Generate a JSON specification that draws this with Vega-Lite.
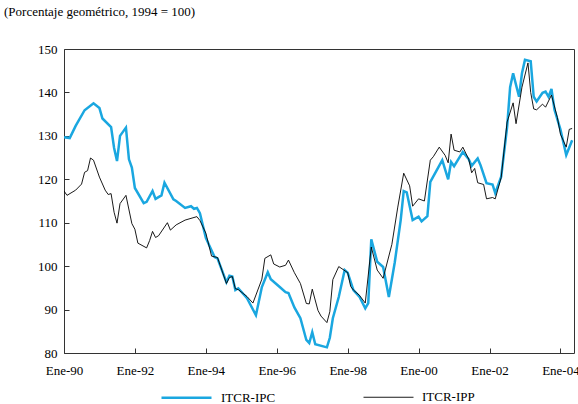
{
  "$schema": "https://vega.github.io/schema/vega-lite/v6.json",
  "width": 510,
  "height": 304,
  "autosize": "none",
  "padding": {"left": 64, "top": 49, "right": 4, "bottom": 51},
  "background": "white",
  "title": {"text": "(Porcentaje geométrico, 1994 = 100)", "anchor": "start", "frame": "group", "dx": -60, "offset": 24, "font": "'Liberation Serif', serif", "fontSize": 13, "fontWeight": "normal", "color": "#000"},
  "config": {"view": {"stroke": "#333", "strokeWidth": 1}, "font": "'Liberation Serif', serif"},
  "data": {"values": [
    {"d":"1990-01-01","s":"ITCR-IPC","v":129.7},{"d":"1990-03-01","s":"ITCR-IPC","v":129.5},{"d":"1990-05-01","s":"ITCR-IPC","v":132.3},{"d":"1990-08-01","s":"ITCR-IPC","v":135.9},{"d":"1990-11-01","s":"ITCR-IPC","v":137.5},{"d":"1991-01-01","s":"ITCR-IPC","v":136.4},{"d":"1991-02-01","s":"ITCR-IPC","v":134},{"d":"1991-05-01","s":"ITCR-IPC","v":132},{"d":"1991-06-01","s":"ITCR-IPC","v":127.2},{"d":"1991-07-01","s":"ITCR-IPC","v":124.2},{"d":"1991-08-01","s":"ITCR-IPC","v":130},{"d":"1991-10-01","s":"ITCR-IPC","v":131.9},{"d":"1991-11-01","s":"ITCR-IPC","v":124.6},{"d":"1991-12-01","s":"ITCR-IPC","v":122.7},{"d":"1992-01-01","s":"ITCR-IPC","v":118},{"d":"1992-04-01","s":"ITCR-IPC","v":114.5},{"d":"1992-05-01","s":"ITCR-IPC","v":114.8},{"d":"1992-07-01","s":"ITCR-IPC","v":117.3},{"d":"1992-08-01","s":"ITCR-IPC","v":115.5},{"d":"1992-10-01","s":"ITCR-IPC","v":116.3},{"d":"1992-11-01","s":"ITCR-IPC","v":119.2},{"d":"1993-02-01","s":"ITCR-IPC","v":115.4},{"d":"1993-03-01","s":"ITCR-IPC","v":115},{"d":"1993-06-01","s":"ITCR-IPC","v":113.4},{"d":"1993-08-01","s":"ITCR-IPC","v":113.8},{"d":"1993-09-01","s":"ITCR-IPC","v":113.2},{"d":"1993-10-01","s":"ITCR-IPC","v":113.4},{"d":"1993-11-01","s":"ITCR-IPC","v":112.2},{"d":"1994-01-01","s":"ITCR-IPC","v":106.5},{"d":"1994-04-01","s":"ITCR-IPC","v":102.1},{"d":"1994-05-01","s":"ITCR-IPC","v":101.8},{"d":"1994-08-01","s":"ITCR-IPC","v":96.3},{"d":"1994-09-01","s":"ITCR-IPC","v":97.8},{"d":"1994-10-01","s":"ITCR-IPC","v":97.6},{"d":"1994-11-01","s":"ITCR-IPC","v":94.5},{"d":"1994-12-01","s":"ITCR-IPC","v":94.9},{"d":"1995-03-01","s":"ITCR-IPC","v":92.6},{"d":"1995-06-01","s":"ITCR-IPC","v":88.7},{"d":"1995-08-01","s":"ITCR-IPC","v":95.2},{"d":"1995-10-01","s":"ITCR-IPC","v":98.6},{"d":"1995-11-01","s":"ITCR-IPC","v":97},{"d":"1996-02-01","s":"ITCR-IPC","v":95.2},{"d":"1996-04-01","s":"ITCR-IPC","v":94},{"d":"1996-05-01","s":"ITCR-IPC","v":93.8},{"d":"1996-07-01","s":"ITCR-IPC","v":90.5},{"d":"1996-09-01","s":"ITCR-IPC","v":88},{"d":"1996-11-01","s":"ITCR-IPC","v":83},{"d":"1996-12-01","s":"ITCR-IPC","v":82.3},{"d":"1997-01-01","s":"ITCR-IPC","v":84.8},{"d":"1997-02-01","s":"ITCR-IPC","v":82},{"d":"1997-06-01","s":"ITCR-IPC","v":81.3},{"d":"1997-07-01","s":"ITCR-IPC","v":83.5},{"d":"1997-08-01","s":"ITCR-IPC","v":88},{"d":"1997-10-01","s":"ITCR-IPC","v":92.9},{"d":"1997-12-01","s":"ITCR-IPC","v":99.1},{"d":"1998-01-01","s":"ITCR-IPC","v":98.5},{"d":"1998-03-01","s":"ITCR-IPC","v":94.5},{"d":"1998-05-01","s":"ITCR-IPC","v":93},{"d":"1998-07-01","s":"ITCR-IPC","v":90.3},{"d":"1998-08-01","s":"ITCR-IPC","v":91.5},{"d":"1998-09-01","s":"ITCR-IPC","v":106.2},{"d":"1998-11-01","s":"ITCR-IPC","v":101},{"d":"1999-01-01","s":"ITCR-IPC","v":99.8},{"d":"1999-03-01","s":"ITCR-IPC","v":92.9},{"d":"1999-05-01","s":"ITCR-IPC","v":100.9},{"d":"1999-07-01","s":"ITCR-IPC","v":110.6},{"d":"1999-08-01","s":"ITCR-IPC","v":117.3},{"d":"1999-09-01","s":"ITCR-IPC","v":117},{"d":"1999-11-01","s":"ITCR-IPC","v":110.6},{"d":"2000-01-01","s":"ITCR-IPC","v":111.4},{"d":"2000-02-01","s":"ITCR-IPC","v":110.3},{"d":"2000-04-01","s":"ITCR-IPC","v":111.5},{"d":"2000-05-01","s":"ITCR-IPC","v":119.4},{"d":"2000-07-01","s":"ITCR-IPC","v":121.9},{"d":"2000-09-01","s":"ITCR-IPC","v":124.4},{"d":"2000-11-01","s":"ITCR-IPC","v":120},{"d":"2000-12-01","s":"ITCR-IPC","v":124},{"d":"2001-01-01","s":"ITCR-IPC","v":123},{"d":"2001-04-01","s":"ITCR-IPC","v":126.3},{"d":"2001-06-01","s":"ITCR-IPC","v":124.6},{"d":"2001-07-01","s":"ITCR-IPC","v":123.1},{"d":"2001-09-01","s":"ITCR-IPC","v":124.8},{"d":"2001-10-01","s":"ITCR-IPC","v":123.2},{"d":"2001-12-01","s":"ITCR-IPC","v":119.1},{"d":"2002-02-01","s":"ITCR-IPC","v":118.8},{"d":"2002-03-01","s":"ITCR-IPC","v":116.8},{"d":"2002-05-01","s":"ITCR-IPC","v":120.6},{"d":"2002-07-01","s":"ITCR-IPC","v":132},{"d":"2002-08-01","s":"ITCR-IPC","v":141.2},{"d":"2002-09-01","s":"ITCR-IPC","v":144.4},{"d":"2002-11-01","s":"ITCR-IPC","v":139},{"d":"2002-12-01","s":"ITCR-IPC","v":144.4},{"d":"2003-01-01","s":"ITCR-IPC","v":147.5},{"d":"2003-03-01","s":"ITCR-IPC","v":147.2},{"d":"2003-04-01","s":"ITCR-IPC","v":139},{"d":"2003-05-01","s":"ITCR-IPC","v":137.9},{"d":"2003-07-01","s":"ITCR-IPC","v":139.9},{"d":"2003-08-01","s":"ITCR-IPC","v":140.2},{"d":"2003-09-01","s":"ITCR-IPC","v":139},{"d":"2003-10-01","s":"ITCR-IPC","v":140.8},{"d":"2003-11-01","s":"ITCR-IPC","v":136},{"d":"2004-01-01","s":"ITCR-IPC","v":131.5},{"d":"2004-03-01","s":"ITCR-IPC","v":125.6},{"d":"2004-05-01","s":"ITCR-IPC","v":129},
    {"d":"1990-01-01","s":"ITCR-IPP","v":117.3},{"d":"1990-02-01","s":"ITCR-IPP","v":116.3},{"d":"1990-05-01","s":"ITCR-IPP","v":117.5},{"d":"1990-07-01","s":"ITCR-IPP","v":118.9},{"d":"1990-08-01","s":"ITCR-IPP","v":121.6},{"d":"1990-09-01","s":"ITCR-IPP","v":122},{"d":"1990-10-01","s":"ITCR-IPP","v":124.9},{"d":"1990-11-01","s":"ITCR-IPP","v":124.4},{"d":"1991-01-01","s":"ITCR-IPP","v":120.5},{"d":"1991-03-01","s":"ITCR-IPP","v":117.5},{"d":"1991-04-01","s":"ITCR-IPP","v":116.5},{"d":"1991-05-01","s":"ITCR-IPP","v":116.7},{"d":"1991-06-01","s":"ITCR-IPP","v":112.4},{"d":"1991-07-01","s":"ITCR-IPP","v":109.9},{"d":"1991-08-01","s":"ITCR-IPP","v":114.4},{"d":"1991-10-01","s":"ITCR-IPP","v":116.3},{"d":"1991-12-01","s":"ITCR-IPP","v":109.8},{"d":"1992-01-01","s":"ITCR-IPP","v":108.5},{"d":"1992-02-01","s":"ITCR-IPP","v":105.3},{"d":"1992-05-01","s":"ITCR-IPP","v":104.2},{"d":"1992-06-01","s":"ITCR-IPP","v":105.9},{"d":"1992-07-01","s":"ITCR-IPP","v":108},{"d":"1992-08-01","s":"ITCR-IPP","v":106.6},{"d":"1992-09-01","s":"ITCR-IPP","v":107},{"d":"1992-12-01","s":"ITCR-IPP","v":110},{"d":"1993-01-01","s":"ITCR-IPP","v":108.3},{"d":"1993-03-01","s":"ITCR-IPP","v":109.5},{"d":"1993-06-01","s":"ITCR-IPP","v":110.6},{"d":"1993-08-01","s":"ITCR-IPP","v":111},{"d":"1993-10-01","s":"ITCR-IPP","v":111.4},{"d":"1993-11-01","s":"ITCR-IPP","v":110.5},{"d":"1994-01-01","s":"ITCR-IPP","v":107.6},{"d":"1994-03-01","s":"ITCR-IPP","v":102.3},{"d":"1994-05-01","s":"ITCR-IPP","v":102},{"d":"1994-08-01","s":"ITCR-IPP","v":96},{"d":"1994-09-01","s":"ITCR-IPP","v":97.4},{"d":"1994-10-01","s":"ITCR-IPP","v":97.6},{"d":"1994-11-01","s":"ITCR-IPP","v":94.8},{"d":"1994-12-01","s":"ITCR-IPP","v":94.6},{"d":"1995-03-01","s":"ITCR-IPP","v":93},{"d":"1995-05-01","s":"ITCR-IPP","v":91.5},{"d":"1995-08-01","s":"ITCR-IPP","v":97},{"d":"1995-09-01","s":"ITCR-IPP","v":101.8},{"d":"1995-11-01","s":"ITCR-IPP","v":102.6},{"d":"1995-12-01","s":"ITCR-IPP","v":100.5},{"d":"1996-02-01","s":"ITCR-IPP","v":99.8},{"d":"1996-04-01","s":"ITCR-IPP","v":100.2},{"d":"1996-05-01","s":"ITCR-IPP","v":101.4},{"d":"1996-07-01","s":"ITCR-IPP","v":98.5},{"d":"1996-09-01","s":"ITCR-IPP","v":96},{"d":"1996-11-01","s":"ITCR-IPP","v":91.4},{"d":"1996-12-01","s":"ITCR-IPP","v":91.3},{"d":"1997-01-01","s":"ITCR-IPP","v":94.7},{"d":"1997-03-01","s":"ITCR-IPP","v":89.8},{"d":"1997-04-01","s":"ITCR-IPP","v":88.5},{"d":"1997-06-01","s":"ITCR-IPP","v":87},{"d":"1997-07-01","s":"ITCR-IPP","v":89.5},{"d":"1997-08-01","s":"ITCR-IPP","v":96.9},{"d":"1997-10-01","s":"ITCR-IPP","v":99.9},{"d":"1998-01-01","s":"ITCR-IPP","v":98.5},{"d":"1998-02-01","s":"ITCR-IPP","v":95.3},{"d":"1998-03-01","s":"ITCR-IPP","v":94.5},{"d":"1998-05-01","s":"ITCR-IPP","v":93.3},{"d":"1998-07-01","s":"ITCR-IPP","v":91.5},{"d":"1998-09-01","s":"ITCR-IPP","v":104.4},{"d":"1998-11-01","s":"ITCR-IPP","v":99.1},{"d":"1999-01-01","s":"ITCR-IPP","v":97.2},{"d":"1999-04-01","s":"ITCR-IPP","v":105},{"d":"1999-06-01","s":"ITCR-IPP","v":113.6},{"d":"1999-08-01","s":"ITCR-IPP","v":121.4},{"d":"1999-10-01","s":"ITCR-IPP","v":118.5},{"d":"1999-11-01","s":"ITCR-IPP","v":113.8},{"d":"2000-01-01","s":"ITCR-IPP","v":115.5},{"d":"2000-03-01","s":"ITCR-IPP","v":115},{"d":"2000-05-01","s":"ITCR-IPP","v":124.4},{"d":"2000-06-01","s":"ITCR-IPP","v":125.2},{"d":"2000-08-01","s":"ITCR-IPP","v":127.4},{"d":"2000-10-01","s":"ITCR-IPP","v":125.5},{"d":"2000-11-01","s":"ITCR-IPP","v":123.8},{"d":"2000-12-01","s":"ITCR-IPP","v":130.4},{"d":"2001-01-01","s":"ITCR-IPP","v":126.7},{"d":"2001-03-01","s":"ITCR-IPP","v":126.3},{"d":"2001-04-01","s":"ITCR-IPP","v":127.4},{"d":"2001-06-01","s":"ITCR-IPP","v":124.6},{"d":"2001-07-01","s":"ITCR-IPP","v":121.5},{"d":"2001-08-01","s":"ITCR-IPP","v":122.5},{"d":"2001-09-01","s":"ITCR-IPP","v":119.2},{"d":"2001-11-01","s":"ITCR-IPP","v":118.8},{"d":"2001-12-01","s":"ITCR-IPP","v":115.5},{"d":"2002-02-01","s":"ITCR-IPP","v":115.8},{"d":"2002-03-01","s":"ITCR-IPP","v":115.5},{"d":"2002-05-01","s":"ITCR-IPP","v":120.4},{"d":"2002-07-01","s":"ITCR-IPP","v":133.2},{"d":"2002-09-01","s":"ITCR-IPP","v":137.6},{"d":"2002-10-01","s":"ITCR-IPP","v":132.8},{"d":"2002-12-01","s":"ITCR-IPP","v":141.2},{"d":"2003-02-01","s":"ITCR-IPP","v":146.8},{"d":"2003-03-01","s":"ITCR-IPP","v":140},{"d":"2003-04-01","s":"ITCR-IPP","v":136.2},{"d":"2003-05-01","s":"ITCR-IPP","v":136},{"d":"2003-07-01","s":"ITCR-IPP","v":137.3},{"d":"2003-08-01","s":"ITCR-IPP","v":136.6},{"d":"2003-10-01","s":"ITCR-IPP","v":139.4},{"d":"2003-12-01","s":"ITCR-IPP","v":134.2},{"d":"2004-01-01","s":"ITCR-IPP","v":130.4},{"d":"2004-03-01","s":"ITCR-IPP","v":127.4},{"d":"2004-04-01","s":"ITCR-IPP","v":131.5},{"d":"2004-05-01","s":"ITCR-IPP","v":131.7}
  ]},
  "mark": {"type": "line", "clip": true},
  "encoding": {
    "x": {
      "field": "d", "type": "temporal",
      "scale": {"type": "utc", "domain": [{"year": 1990, "month": 1, "date": 1, "utc": true}, {"year": 2004, "month": 5, "date": 20, "utc": true}]},
      "axis": {
        "title": null, "grid": false, "domain": false, "labelFlush": false,
        "values": [{"year": 1990, "month": 1, "date": 1, "utc": true}, {"year": 1992, "month": 1, "date": 1, "utc": true}, {"year": 1994, "month": 1, "date": 1, "utc": true}, {"year": 1996, "month": 1, "date": 1, "utc": true}, {"year": 1998, "month": 1, "date": 1, "utc": true}, {"year": 2000, "month": 1, "date": 1, "utc": true}, {"year": 2002, "month": 1, "date": 1, "utc": true}, {"year": 2004, "month": 1, "date": 1, "utc": true}],
        "labelExpr": "'Ene-' + utcFormat(datum.value, '%y')",
        "tickSize": -5, "tickColor": "#333", "labelPadding": 16, "labelFontSize": 13, "labelColor": "#000", "labelFont": "'Liberation Serif', serif"
      }
    },
    "y": {
      "field": "v", "type": "quantitative",
      "scale": {"domain": [80, 150], "nice": false, "zero": false},
      "axis": {"title": null, "grid": false, "domain": false, "values": [80, 90, 100, 110, 120, 130, 140, 150], "tickSize": -5, "tickColor": "#333", "labelPadding": 12, "labelFontSize": 13, "labelColor": "#000", "labelFont": "'Liberation Serif', serif"}
    },
    "color": {
      "field": "s", "type": "nominal", "title": null,
      "scale": {"domain": ["ITCR-IPC", "ITCR-IPP"], "range": ["#1aa7e0", "#000000"]},
      "legend": {"orient": "none", "legendX": 96, "legendY": 322, "direction": "horizontal", "symbolType": "stroke", "symbolSize": 2500, "columnPadding": 85, "labelFontSize": 13, "labelFont": "'Liberation Serif', serif", "labelColor": "#000", "labelOffset": 8}
    },
    "strokeWidth": {
      "field": "s", "type": "nominal", "title": null,
      "scale": {"domain": ["ITCR-IPC", "ITCR-IPP"], "range": [2.5, 0.9]}
    }
  }
}
